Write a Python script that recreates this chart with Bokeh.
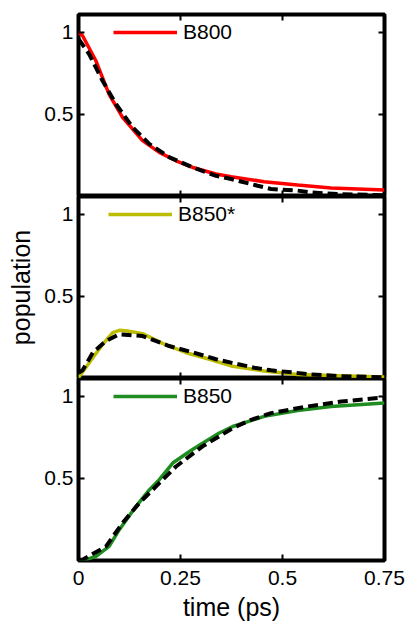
from bokeh.plotting import figure
from bokeh.layouts import column
from bokeh.models import FixedTicker, LinearAxis, Legend, LegendItem, Range1d
from bokeh.embed import file_html
from bokeh.resources import INLINE

FONT = "Liberation Sans"

# ---- data ----
t_b800 = [0, 0.01, 0.042, 0.075, 0.108, 0.157, 0.198, 0.239, 0.28, 0.337, 0.374, 0.455, 0.537, 0.619, 0.75]
y_b800 = [1.0, 0.98, 0.83, 0.62, 0.48, 0.337, 0.265, 0.214, 0.173, 0.133, 0.116, 0.086, 0.065, 0.047, 0.035]
t_b800_fit = [0, 0.026, 0.059, 0.092, 0.133, 0.174, 0.223, 0.28, 0.337, 0.374, 0.439, 0.472, 0.537, 0.57, 0.635, 0.75]
y_b800_fit = [0.96, 0.868, 0.704, 0.56, 0.418, 0.316, 0.235, 0.173, 0.122, 0.102, 0.061, 0.041, 0.031, 0.02, 0.01, 0.003]

t_b850s = [0, 0.035, 0.059, 0.084, 0.1, 0.12, 0.157, 0.206, 0.264, 0.321, 0.374, 0.455, 0.537, 0.619, 0.75]
y_b850s = [0, 0.122, 0.204, 0.276, 0.29, 0.286, 0.27, 0.21, 0.153, 0.113, 0.072, 0.041, 0.02, 0.014, 0.004]
t_b850s_fit = [0, 0.01, 0.035, 0.067, 0.1, 0.157, 0.222, 0.28, 0.337, 0.374, 0.431, 0.472, 0.529, 0.57, 0.635, 0.75]
y_b850s_fit = [0.03, 0.045, 0.153, 0.225, 0.266, 0.255, 0.194, 0.155, 0.113, 0.092, 0.061, 0.045, 0.031, 0.02, 0.01, 0.002]

t_b850 = [0, 0.018, 0.043, 0.075, 0.1, 0.141, 0.174, 0.198, 0.231, 0.272, 0.304, 0.345, 0.378, 0.455, 0.537, 0.619, 0.75]
y_b850 = [0, 0.0, 0.02, 0.081, 0.184, 0.327, 0.429, 0.49, 0.592, 0.663, 0.714, 0.776, 0.816, 0.878, 0.914, 0.939, 0.96]
t_b850_fit = [0, 0.01, 0.067, 0.108, 0.149, 0.19, 0.239, 0.304, 0.378, 0.423, 0.472, 0.562, 0.644, 0.733, 0.75]
y_b850_fit = [0, 0.0, 0.08, 0.225, 0.347, 0.449, 0.571, 0.694, 0.806, 0.857, 0.898, 0.939, 0.969, 0.99, 0.99]

x_ticks = [0, 0.25, 0.5, 0.75]
x_tick_labels = {0: "0", 0.25: "0.25", 0.5: "0.5", 0.75: "0.75"}
y_ticks = [0.5, 1]
y_tick_labels = {0.5: "0.5", 1: "1"}

panels = [
    ("B800", "#ff0000", t_b800, y_b800, t_b800_fit, y_b800_fit, 35),
    ("B850*", "#bcbc00", t_b850s, y_b850s, t_b850s_fit, y_b850s_fit, 30),
    ("B850", "#1e8c1e", t_b850, y_b850, t_b850_fit, y_b850_fit, 35),
]

FW, FH = 306, 182


def style_axis(ax, ticks, labels, show_labels):
    ax.ticker = FixedTicker(ticks=ticks)
    ax.major_label_overrides = labels
    ax.axis_line_color = None
    ax.major_tick_in = 6
    ax.major_tick_out = 0
    ax.major_tick_line_width = 2
    ax.major_tick_line_color = "black"
    ax.minor_tick_line_color = None
    if show_labels:
        ax.major_label_text_font = FONT
        ax.major_label_text_font_size = "21px"
        ax.major_label_text_color = "black"
    else:
        ax.major_label_text_font_size = "0px"
        ax.major_label_text_color = None
        ax.major_label_standoff = 0


figs = []
for i, (name, col, tx, ty, fx, fy, lx) in enumerate(panels):
    last = i == 2
    p = figure(frame_width=FW, frame_height=FH,
               x_range=Range1d(0, 0.75), y_range=Range1d(-0.005, 1.11),
               output_backend="svg", toolbar_location=None,
               x_axis_location=None, y_axis_location=None,
               min_border_left=78, min_border_right=23,
               min_border_top=14 if i == 0 else 0,
               min_border_bottom=62 if last else 0)
    p.grid.visible = False
    p.outline_line_color = "black"
    p.outline_line_width = 4
    p.background_fill_color = "white"
    p.border_fill_color = "white"

    left = LinearAxis()
    style_axis(left, y_ticks, y_tick_labels, True)
    left.major_label_standoff = 5
    if i == 1:
        left.axis_label = "population"
        left.axis_label_text_font = FONT
        left.axis_label_text_font_size = "25px"
        left.axis_label_text_font_style = "normal"
        left.axis_label_text_color = "black"
        left.axis_label_standoff = 6
    p.add_layout(left, "left")

    right = LinearAxis()
    style_axis(right, y_ticks, y_tick_labels, False)
    p.add_layout(right, "right")

    top = LinearAxis()
    style_axis(top, x_ticks[1:3], x_tick_labels, False)
    p.add_layout(top, "above")

    bottom = LinearAxis()
    if last:
        style_axis(bottom, x_ticks, x_tick_labels, True)
        bottom.major_label_standoff = 10
        bottom.axis_label = "time (ps)"
        bottom.axis_label_text_font = FONT
        bottom.axis_label_text_font_size = "25px"
        bottom.axis_label_text_font_style = "normal"
        bottom.axis_label_text_color = "black"
        bottom.axis_label_standoff = 5
    else:
        style_axis(bottom, x_ticks[1:3], x_tick_labels, False)
    p.add_layout(bottom, "below")

    r = p.line(tx, ty, line_color=col, line_width=3.5)
    p.line(fx, fy, line_color="black", line_width=4, line_dash="10 5")

    legend = Legend(items=[LegendItem(label=name, renderers=[r])],
                    location=(lx, FH - 30),
                    glyph_width=64, glyph_height=22,
                    label_text_font=FONT, label_text_font_size="21px",
                    label_text_color="black",
                    label_standoff=6, padding=0, margin=0, spacing=0,
                    background_fill_alpha=0, border_line_color=None)
    p.add_layout(legend)
    figs.append(p)

layout = column(*figs, spacing=0)
open("out.html", "w").write(file_html(layout, INLINE, title="populations"))
